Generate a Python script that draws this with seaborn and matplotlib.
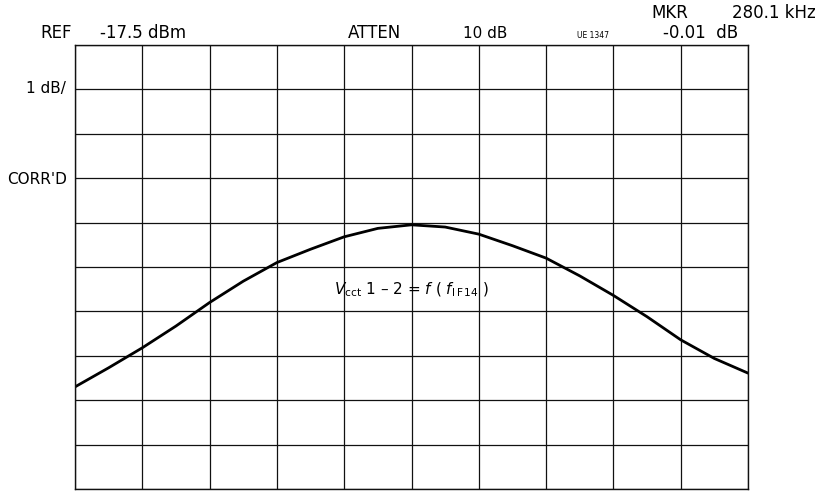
import matplotlib
matplotlib.use("Agg")
import matplotlib.pyplot as plt
import seaborn as sns
import pandas as pd
import numpy as np

# Horizontal position in screen divisions, level in divisions above the bottom graticule line
x_div = [0, 0.5, 1, 1.5, 2, 2.5, 3, 3.5, 4, 4.5, 5, 5.5, 6, 6.5, 7, 7.5, 8, 8.5, 9, 9.5, 10]
level_div = [2.30, 2.73, 3.18, 3.67, 4.20, 4.68, 5.10, 5.40, 5.68, 5.87, 5.95, 5.90, 5.74, 5.48,
             5.20, 4.80, 4.36, 3.88, 3.36, 2.94, 2.61]

header_texts = ["REF", "-17.5 dBm", "ATTEN", "10 dB", "UE 1347", "-0.01  dB"]
marker_texts = ["MKR", "280.1 kHz"]
side_texts = ["1 dB/", "CORR'D"]

df = pd.DataFrame({"x": x_div, "level": level_div})

sns.set_theme(style="white")
plt.rcParams['font.family'] = ['DejaVu Sans']
plt.rcParams['text.color'] = 'black'

W, H = 822, 494
fig = plt.figure(figsize=(W / 100, H / 100), dpi=100)
ax = fig.add_axes([75 / W, 1 - 489 / H, (748 - 75) / W, (489 - 45) / H])

sns.lineplot(data=df, x="x", y="level", ax=ax, color="black", linewidth=2.0, estimator=None)

ax.set_xlim(0, 10)
ax.set_ylim(0, 10)
ax.set_xticks(np.arange(0, 11, 1))
ax.set_yticks(np.arange(0, 11, 1))
ax.grid(True, color="#111111", linewidth=0.9)
ax.tick_params(left=False, bottom=False, labelleft=False, labelbottom=False)
ax.set_xlabel("")
ax.set_ylabel("")
for s in ax.spines.values():
    s.set_color("#111111")
    s.set_linewidth(1.0)

fam = ['DejaVu Sans']
fs = 12

def ft(xp, yp, s, ha="left", size=fs):
    fig.text(xp / W, 1 - yp / H, s, ha=ha, va="center", fontsize=size, family=fam, color="black")

ft(72, 33, header_texts[0], ha="right")
ft(100, 33, header_texts[1])
ft(348, 33, header_texts[2])
ft(463, 33, header_texts[3], size=11)
ft(577, 36, header_texts[4], size=5.5)
ft(663, 33, header_texts[5])
ft(651, 13, marker_texts[0])
ft(816, 13, marker_texts[1], ha="right")
ft(66, 89, side_texts[0], ha="right", size=11)
ft(67, 179, side_texts[1], ha="right", size=11)

ax.text(5.0, 4.48, r"$V_{\rm cct}$ 1 – 2 = $f$ ( $f_{\rm I\,F\,14}$ )", ha="center", va="center",
        fontsize=11, color="black", family=fam)

fig.savefig("out.png", dpi=100, facecolor="white")
